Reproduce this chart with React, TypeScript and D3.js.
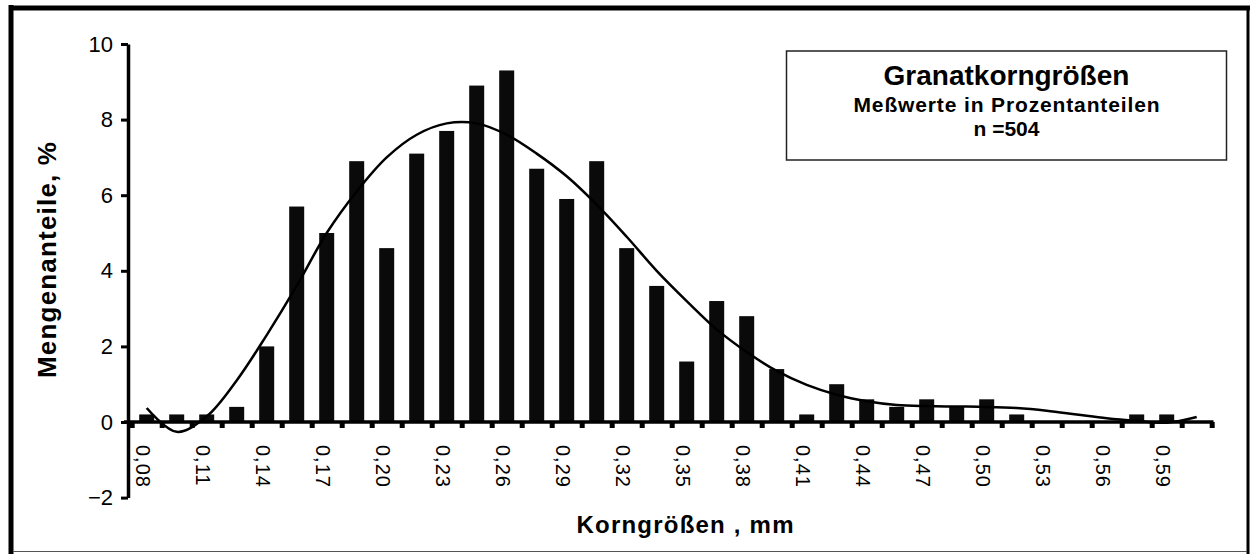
import { useEffect, useRef } from "react";
import * as d3 from "d3";

// grain size classes (mm), step 0.015
const sizes = [
  0.08, 0.095, 0.11, 0.125, 0.14, 0.155, 0.17, 0.185, 0.2, 0.215, 0.23, 0.245,
  0.26, 0.275, 0.29, 0.305, 0.32, 0.335, 0.35, 0.365, 0.38, 0.395, 0.41, 0.425,
  0.44, 0.455, 0.47, 0.485, 0.5, 0.515, 0.53, 0.545, 0.56, 0.575, 0.59, 0.605,
];

// measured shares in %
const shares = [
  0.2, 0.2, 0.2, 0.4, 2.0, 5.7, 5.0, 6.9, 4.6, 7.1, 7.7, 8.9,
  9.3, 6.7, 5.9, 6.9, 4.6, 3.6, 1.6, 3.2, 2.8, 1.4, 0.2, 1.0,
  0.6, 0.4, 0.6, 0.4, 0.6, 0.2, 0, 0, 0, 0.2, 0.2, 0,
];

// trend line, one value per class
const trend = [
  0.37, -0.26, 0.15, 1.1, 2.3, 3.6, 5.0, 6.1, 7.0, 7.6, 7.9, 7.9,
  7.6, 7.1, 6.5, 5.75, 4.9, 4.0, 3.2, 2.45, 1.85, 1.35, 0.98, 0.72,
  0.55, 0.45, 0.42, 0.41, 0.4, 0.37, 0.3, 0.2, 0.1, 0.03, -0.02, 0.13,
];

const tickLabels = [
  "0,08", "0,11", "0,14", "0,17", "0,20", "0,23", "0,26", "0,29", "0,32",
  "0,35", "0,38", "0,41", "0,44", "0,47", "0,50", "0,53", "0,56", "0,59",
];
const yTicks = [-2, 0, 2, 4, 6, 8, 10];

const font = "'Liberation Sans', Arial, sans-serif";

export default function App() {
  const svgRef = useRef<SVGSVGElement>(null);

  useEffect(() => {
    const width = 1250, height = 554;
    const svg = d3.select(svgRef.current).attr("width", width).attr("height", height);
    svg.selectAll("*").remove();

    const x = d3.scaleBand<number>()
      .domain(sizes)
      .range([131.7, 1211.7])
      .paddingInner(0.5)
      .paddingOuter(0.25);
    const edges = d3.scaleLinear().domain([0, sizes.length]).range([131.7, 1211.7]);
    const y = d3.scaleLinear().domain([-2, 10]).range([497.6, 44]);
    const cx = (d: number) => (x(d) as number) + x.bandwidth() / 2;

    svg.append("rect").attr("width", width).attr("height", height).attr("fill", "#fff");

    // frame
    svg.append("line").attr("x1", 11).attr("x2", 11).attr("y1", 5).attr("y2", 554)
      .attr("stroke", "#000").attr("stroke-width", 5);
    svg.append("line").attr("x1", 9).attr("x2", 1250).attr("y1", 8).attr("y2", 8)
      .attr("stroke", "#000").attr("stroke-width", 5);
    svg.append("line").attr("x1", 1248).attr("x2", 1248).attr("y1", 6).attr("y2", 554)
      .attr("stroke", "#000").attr("stroke-width", 3);
    svg.append("line").attr("x1", 13).attr("x2", 1247).attr("y1", 551.5).attr("y2", 551.5)
      .attr("stroke", "#555").attr("stroke-width", 1);

    // bars
    svg.append("g").selectAll("rect")
      .data(sizes)
      .join("rect")
      .attr("x", (d) => x(d) as number)
      .attr("width", x.bandwidth())
      .attr("y", (_, i) => Math.min(y(shares[i]), y(0)))
      .attr("height", (_, i) => Math.abs(y(0) - y(shares[i])))
      .attr("fill", "#0a0a0a");

    // y axis
    const gy = svg.append("g")
      .attr("transform", "translate(128,0)")
      .call(d3.axisLeft(y).tickValues(yTicks).tickSize(7).tickSizeOuter(0).tickPadding(8));
    gy.select(".domain").attr("stroke", "#000").attr("stroke-width", 3.5);
    gy.selectAll(".tick line").attr("stroke", "#000").attr("stroke-width", 3);
    gy.selectAll(".tick text")
      .attr("font-family", font).attr("font-size", 22).attr("fill", "#000");

    // x axis line + boundary ticks
    const gx = svg.append("g")
      .attr("transform", `translate(0,${y(0)})`)
      .call(
        d3.axisBottom(edges)
          .tickValues(d3.range(sizes.length + 1))
          .tickSize(6)
          .tickSizeOuter(0)
          .tickFormat(() => "")
      );
    gx.select(".domain").remove();
    gx.selectAll(".tick line").attr("stroke", "#000").attr("stroke-width", 5);
    gx.append("line").attr("x1", 124).attr("x2", 1213.5).attr("y1", 0).attr("y2", 0)
      .attr("stroke", "#000").attr("stroke-width", 3.5);

    // x tick labels, every second class
    const labelled = sizes.filter((_, i) => i % 2 === 0);
    const gl = svg.append("g")
      .attr("transform", `translate(0,${y(0)})`)
      .call(
        d3.axisBottom(x)
          .tickValues(labelled)
          .tickSize(0)
          .tickFormat((_, i) => tickLabels[i])
      );
    gl.select(".domain").remove();
    gl.selectAll(".tick text")
      .attr("x", 0).attr("y", 0).attr("dy", null)
      .attr("text-anchor", "start")
      .attr("transform", "translate(-11,23) rotate(90)")
      .attr("font-family", font).attr("font-size", 20)
      .attr("letter-spacing", 1)
      .attr("fill", "#000");

    // trend line
    const line = d3.line<number>()
      .x((_, i) => cx(sizes[i]))
      .y((d) => y(d))
      .curve(d3.curveCatmullRom.alpha(0.5));
    svg.append("path")
      .attr("d", line(trend))
      .attr("fill", "none")
      .attr("stroke", "#000")
      .attr("stroke-width", 2.5);

    // axis titles
    svg.append("text")
      .attr("transform", "translate(56,260) rotate(-90)")
      .attr("text-anchor", "middle")
      .attr("font-family", font).attr("font-weight", "bold").attr("font-size", 26)
      .attr("textLength", 236).attr("lengthAdjust", "spacing")
      .text("Mengenanteile, %");
    svg.append("text")
      .attr("x", 685).attr("y", 533)
      .attr("text-anchor", "middle")
      .attr("font-family", font).attr("font-weight", "bold").attr("font-size", 24)
      .attr("textLength", 217).attr("lengthAdjust", "spacing")
      .text("Korngrößen , mm");

    // legend box
    const lg = svg.append("g");
    lg.append("rect")
      .attr("x", 786.5).attr("y", 51).attr("width", 440).attr("height", 109)
      .attr("fill", "#fff").attr("stroke", "#222").attr("stroke-width", 1.5);
    lg.append("text")
      .attr("x", 1006.5).attr("y", 85).attr("text-anchor", "middle")
      .attr("font-family", font).attr("font-weight", "bold").attr("font-size", 28)
      .text("Granatkorngrößen");
    lg.append("text")
      .attr("x", 1006.5).attr("y", 112).attr("text-anchor", "middle")
      .attr("font-family", font).attr("font-weight", "bold").attr("font-size", 21)
      .attr("textLength", 306).attr("lengthAdjust", "spacing")
      .text("Meßwerte in Prozentanteilen");
    lg.append("text")
      .attr("x", 1006.5).attr("y", 136).attr("text-anchor", "middle")
      .attr("font-family", font).attr("font-weight", "bold").attr("font-size", 21)
      .text("n =504");
  }, []);

  return (
    <svg
      ref={svgRef}
      style={{ position: "absolute", left: 0, top: 0, display: "block" }}
    />
  );
}
